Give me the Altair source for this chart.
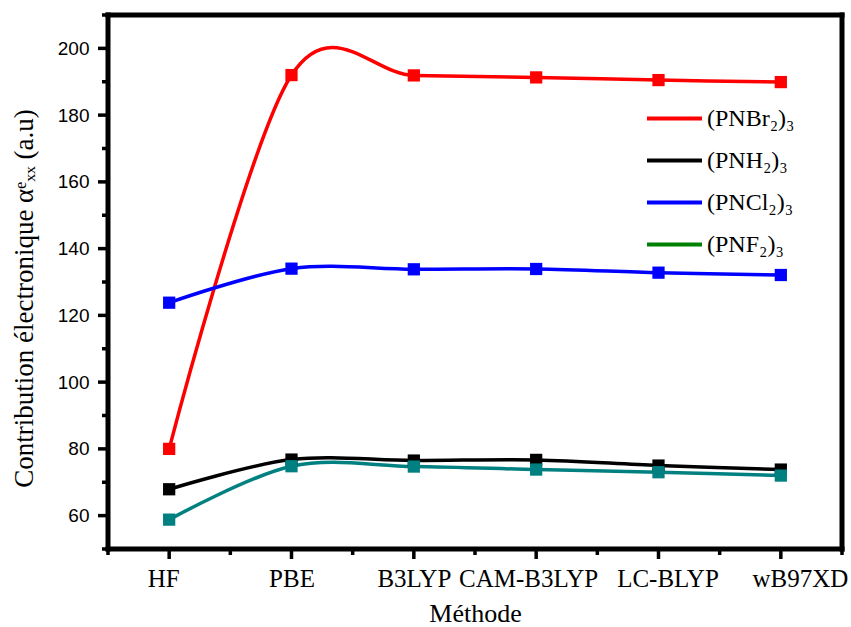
import json

import altair as alt
import pandas as pd

# Methods on the x axis and electronic contribution (a.u) for each molecule
methods = ["HF", "PBE", "B3LYP", "CAM-B3LYP", "LC-BLYP", "wB97XD"]
series_names = ["(PNBr₂)₃", "(PNH₂)₃", "(PNCl₂)₃", "(PNF₂)₃"]
pnbr2 = [80.0, 192.0, 191.9, 191.3, 190.5, 189.9]
pnh2 = [67.9, 76.8, 76.5, 76.7, 75.0, 73.8]
pncl2 = [123.8, 134.0, 133.8, 133.9, 132.8, 132.1]
pnf2 = [58.8, 74.8, 74.7, 73.8, 73.0, 72.0]

line_colors = ["#ff0000", "#000000", "#0000ff", "#008080"]
legend_colors = ["#ff0000", "#000000", "#0000ff", "#008000"]

y_major = list(range(60, 201, 20))
y_minor = list(range(50, 211, 20))
x_major = list(range(len(methods)))
x_minor = [i + 0.5 for i in range(-1, len(methods))]

W, H = 734, 534

rows = []
for name, values in zip(series_names, [pnbr2, pnh2, pncl2, pnf2]):
    for i, (m, v) in enumerate(zip(methods, values)):
        rows.append({"idx": i, "method": m, "series": name, "value": v})
df = pd.DataFrame(rows)

serif = "Liberation Serif"
sans = "Liberation Sans"

x_scale = alt.Scale(domain=[-0.5, 5.5], nice=False, zero=False)
y_scale = alt.Scale(domain=[50, 210], nice=False, zero=False)

x_enc = alt.X(
    "idx:Q",
    scale=x_scale,
    axis=alt.Axis(
        values=x_major,
        labelExpr=f"{json.dumps(methods)}[datum.value]",
        title="Méthode",
        titleFont=serif,
        titleFontSize=26,
        titleFontWeight="normal",
        titleBaseline="alphabetic",
        titleY=72,
        titleColor="#000000",
        labelFont=serif,
        labelFontSize=25,
        labelColor="#000000",
        labelPadding=17,
        labelFlush=False,
        labelOverlap=False,
        labelOffset={
            "condition": [
                {"test": "datum.value === 0", "value": -6},
                {"test": "datum.value === 3", "value": -8},
                {"test": "datum.value === 4", "value": 9},
                {"test": "datum.value === 5", "value": 19},
            ],
            "value": 0,
        },
        domain=False,
        ticks=False,
        tickSize=0,
        grid=False,
    ),
)

y_enc = alt.Y(
    "value:Q",
    scale=y_scale,
    axis=alt.Axis(
        values=y_major,
        title="Contribution électronique α\u1d49\u2093\u2093  (a.u)",
        titleFont=serif,
        titleFontSize=27,
        titleFontWeight="normal",
        titleAngle=-90,
        titleAlign="center",
        titleBaseline="alphabetic",
        titleX=-76,
        titleY=283,
        titleColor="#000000",
        labelFont=sans,
        labelFontSize=19,
        labelColor="#000000",
        labelPadding=19,
        labelOverlap=False,
        labelFlush=False,
        domain=False,
        ticks=False,
        tickSize=0,
        grid=False,
    ),
)

line_color = alt.Color(
    "series:N",
    scale=alt.Scale(domain=series_names, range=line_colors),
    legend=None,
)

base = alt.Chart(df).encode(x=x_enc, y=y_enc)

lines = base.mark_line(interpolate="cardinal", tension=0, strokeWidth=3.5).encode(
    color=line_color, detail="series:N"
)
points = base.mark_point(shape="square", filled=True, size=150, opacity=1).encode(
    color=line_color
)

# legend-only layer: filtered empty, its color scale drives the legend swatches
legend_layer = (
    base.mark_line(strokeWidth=4)
    .encode(
        color=alt.Color(
            "series:N",
            scale=alt.Scale(domain=series_names, range=legend_colors),
            legend=alt.Legend(
                title=None,
                orient="none",
                legendX=537,
                legendY=74,
                symbolType="stroke",
                symbolSize=3025,
                symbolStrokeWidth=4,
                symbolOpacity=1,
                labelFont=serif,
                labelFontSize=24,
                labelColor="#000000",
                labelOffset=3,
                labelLimit=300,
                rowPadding=-29,
            ),
        )
    )
    .transform_filter("false")
)


# tick marks along the left and bottom axes
def y_ticks(vals, length):
    return (
        alt.Chart(pd.DataFrame({"v": vals}))
        .mark_rule()
        .encode(
            y=alt.Y("v:Q", scale=y_scale),
            x=alt.value(-length),
            x2=alt.value(0),
            stroke=alt.value("black"),
            strokeWidth=alt.value(3.5),
        )
    )


def x_ticks(vals, length):
    return (
        alt.Chart(pd.DataFrame({"v": vals}))
        .mark_rule()
        .encode(
            x=alt.X("v:Q", scale=x_scale),
            y=alt.value(H),
            y2=alt.value(H + length),
            stroke=alt.value("black"),
            strokeWidth=alt.value(3.5),
        )
    )


# the four sides of the plot frame
frame_df = pd.DataFrame(
    {
        "x1": [0, 0, 0, W],
        "x2": [W, W, 0, W],
        "y1": [0, H, 0, 0],
        "y2": [0, H, H, H],
    }
)
frame = (
    alt.Chart(frame_df)
    .mark_rule(strokeCap="square")
    .encode(
        x=alt.X("x1:Q", scale=None),
        x2="x2:Q",
        y=alt.Y("y1:Q", scale=None),
        y2="y2:Q",
        stroke=alt.value("black"),
        strokeWidth=alt.value(5),
    )
)

chart = (
    alt.layer(
        lines,
        points,
        legend_layer,
        y_ticks(y_major, 10),
        y_ticks(y_minor, 6),
        x_ticks(x_major, 10),
        x_ticks(x_minor, 6),
        frame,
    )
    .resolve_scale(color="independent")
    .properties(
        width=W,
        height=H,
        autosize=alt.AutoSizeParams(type="none"),
        padding={"left": 108, "top": 15, "right": 9, "bottom": 78},
        background="white",
    )
    .configure_view(strokeWidth=0)
)

chart.save("out.html", embed_options={"renderer": "svg", "actions": False})
